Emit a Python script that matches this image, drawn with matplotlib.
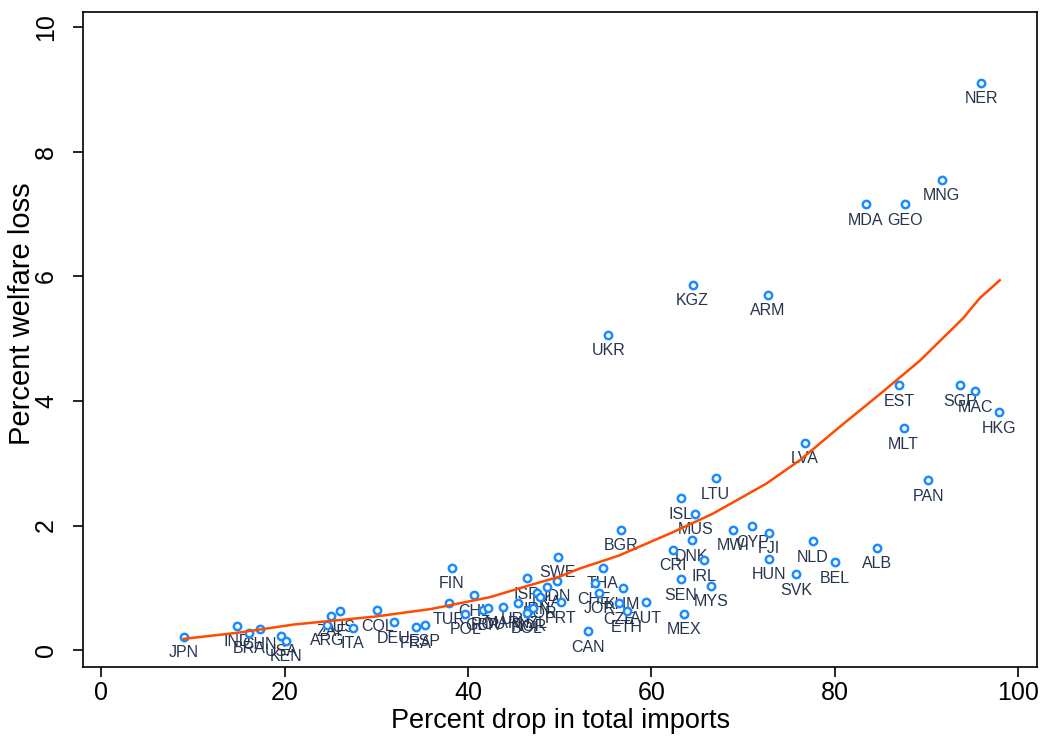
import matplotlib
matplotlib.use('Agg')
import matplotlib.pyplot as plt

plt.rcParams['font.family'] = ['Liberation Sans', 'DejaVu Sans']

# Country codes, percent drop in total imports, percent welfare loss
codes = ['JPN', 'IND', 'BRA', 'CHN', 'USA', 'KEN',
         'ARG', 'ZAF', 'AUS', 'ITA', 'COL', 'DEU', 'FRA', 'ESP',
         'TUR', 'FIN', 'POL', 'CHL', 'GBR', 'ROU', 'MAR', 'URY',
         'ISR', 'NOR', 'BOL', 'NZL', 'IRN', 'KOR', 'LKA', 'IDN',
         'SWE', 'PRT', 'CAN', 'CHE', 'JOR', 'THA', 'UKR', 'CZE',
         'KHM', 'ETH', 'AUT', 'BGR', 'CRI', 'SEN', 'MEX', 'ISL',
         'KGZ', 'DNK', 'MUS', 'IRL', 'MYS', 'LTU', 'MWI', 'CYP',
         'ARM', 'FJI', 'HUN', 'SVK', 'LVA', 'NLD', 'BEL', 'MDA',
         'ALB', 'EST', 'MLT', 'GEO', 'PAN', 'MNG', 'SGP', 'MAC',
         'NER', 'HKG']
drop = [9.0, 14.8, 16.1, 17.3, 19.6, 20.2,
        24.6, 25.1, 26.0, 27.4, 30.1, 31.9, 34.3, 35.3,
        37.9, 38.2, 39.7, 40.7, 41.6, 42.2, 43.8, 45.4,
        46.4, 46.7, 46.4, 47.1, 47.5, 47.8, 48.6, 49.7,
        49.8, 50.1, 53.1, 53.8, 54.3, 54.7, 55.3, 56.5,
        56.9, 57.3, 59.45, 56.7, 62.4, 63.2, 63.6, 63.2,
        64.5, 64.4, 64.8, 65.7, 66.5, 67.0, 68.9, 71.0,
        72.7, 72.8, 72.8, 75.8, 76.7, 77.6, 80.0, 83.4,
        84.65, 87.0, 87.5, 87.7, 90.2, 91.67, 93.7, 95.3,
        96.0, 97.9]
loss = [0.21, 0.39, 0.28, 0.34, 0.23, 0.15,
        0.41, 0.55, 0.62, 0.36, 0.64, 0.45, 0.37, 0.40,
        0.75, 1.32, 0.58, 0.88, 0.65, 0.67, 0.69, 0.75,
        1.15, 0.64, 0.60, 0.68, 0.91, 0.85, 1.02, 1.11,
        1.50, 0.77, 0.30, 1.07, 0.92, 1.32, 5.06, 0.75,
        0.99, 0.62, 0.77, 1.93, 1.61, 1.14, 0.58, 2.44,
        5.87, 1.76, 2.19, 1.44, 1.03, 2.76, 1.93, 1.99,
        5.71, 1.88, 1.47, 1.22, 3.33, 1.75, 1.41, 7.16,
        1.64, 4.25, 3.56, 7.16, 2.73, 7.55, 4.25, 4.16,
        9.11, 3.82]

# Fitted (smoothed) line
fit_x = [9.0, 15, 21, 30, 36, 42.4, 46.7, 50.0, 52.2, 56.5, 62.3, 66.7,
         72.5, 76.2, 80.5, 85, 89.3, 94.0, 95.8, 98.0]
fit_y = [0.18, 0.28, 0.41, 0.54, 0.66, 0.85, 1.04, 1.18, 1.31, 1.52, 1.89,
         2.19, 2.67, 3.05, 3.58, 4.12, 4.65, 5.33, 5.65, 5.94]

fig = plt.figure(figsize=(10.5, 7.4), dpi=100)
ax = fig.add_axes([0.079, 0.098, 0.909, 0.886])

ax.plot(drop, loss, 'o', markersize=5.3, markerfacecolor='white',
        markeredgecolor='#1a8cff', markeredgewidth=1.8, zorder=3)
ax.plot(fit_x, fit_y, color='#ff4a00', linewidth=1.8, zorder=4)

for c, x, y in zip(codes, drop, loss):
    ax.annotate(c, (x, y), xytext=(0, -16), textcoords='offset pixels',
                ha='center', va='center', fontsize=11.5, color='#26344f',
                zorder=2)

ax.set_xlim(-2, 102.1)
ax.set_ylim(-0.28, 10.25)
ax.set_xticks([0, 20, 40, 60, 80, 100])
ax.set_yticks([0, 2, 4, 6, 8, 10])
ax.tick_params(direction='out', length=7, width=1.2, labelsize=18)
ax.tick_params(axis='x', pad=3)
ax.tick_params(axis='y', pad=11)
for lab in ax.get_yticklabels():
    lab.set_rotation(90)
    lab.set_va('center')
for s in ax.spines.values():
    s.set_linewidth(1.2)

ax.set_xlabel('Percent drop in total imports', fontsize=19.5, labelpad=2)
ax.set_ylabel('Percent welfare loss', fontsize=21)
ax.yaxis.label.set_va('center')
ax.yaxis.set_label_coords(-0.064, 0.54)

fig.savefig('out.png', dpi=100)
